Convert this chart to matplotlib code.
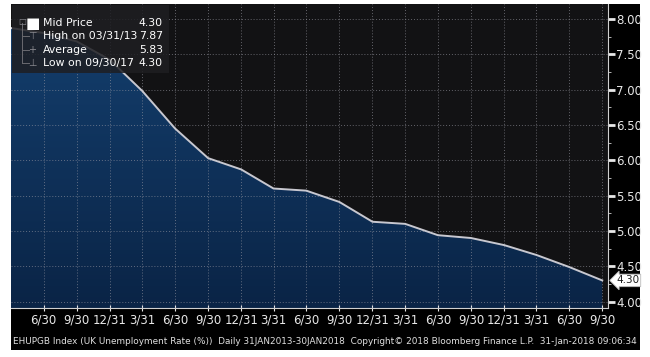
import matplotlib
matplotlib.use("Agg")
import matplotlib.pyplot as plt
import matplotlib.dates as mdates
import numpy as np
from matplotlib.patches import Rectangle
from datetime import date

# quarterly UK unemployment rate (%)
dates = [date(2013, 3, 31), date(2013, 6, 30), date(2013, 9, 30), date(2013, 12, 31),
         date(2014, 3, 31), date(2014, 6, 30), date(2014, 9, 30), date(2014, 12, 31),
         date(2015, 3, 31), date(2015, 6, 30), date(2015, 9, 30), date(2015, 12, 31),
         date(2016, 3, 31), date(2016, 6, 30), date(2016, 9, 30), date(2016, 12, 31),
         date(2017, 3, 31), date(2017, 6, 30), date(2017, 9, 30)]
rate = [7.87, 7.80, 7.68, 7.42, 6.98, 6.45, 6.03, 5.87, 5.60, 5.57,
        5.41, 5.13, 5.10, 4.94, 4.90, 4.80, 4.66, 4.49, 4.30]

tick_dates = dates[1:]
tick_labels = [f"{d.month}/{d.day}" for d in tick_dates]
y_ticks = [4.00, 4.50, 5.00, 5.50, 6.00, 6.50, 7.00, 7.50, 8.00]

legend_rows = [("Mid Price", "4.30"), ("High on 03/31/13", "7.87"),
               ("Average", "5.83"), ("Low on 09/30/17", "4.30")]
footer = ("EHUPGB Index (UK Unemployment Rate (%))  Daily 31JAN2013-30JAN2018  "
          "Copyright\u00a9 2018 Bloomberg Finance L.P.  31-Jan-2018 09:06:34")

W, H = 650, 357
fig = plt.figure(figsize=(W / 100, H / 100), dpi=100, facecolor="white")
fig.patches.append(Rectangle((11 / W, 1 - 350 / H), 629 / W, 346 / H,
                             transform=fig.transFigure, facecolor="black",
                             edgecolor="none", zorder=-5))

ax = fig.add_axes([11 / W, 1 - 308 / H, 597 / W, 304 / H])
ax.set_zorder(2)
ax.set_facecolor("#121214")

x = mdates.date2num(dates)
ax.set_xlim(x[0], x[-1] + 16)
ax.set_ylim(3.91, 8.21)

# gradient fill under the line (lighter at the top)
grad = np.linspace(0, 1, 256).reshape(-1, 1)
cmap = matplotlib.colors.LinearSegmentedColormap.from_list("b", ["#0a2446", "#143f6e"])
im = ax.imshow(grad, cmap=cmap, aspect="auto", origin="lower",
               extent=[x[0], x[-1], 3.91, 8.0], zorder=1)
poly = ax.fill_between(x, rate, 3.91, facecolor="none", edgecolor="none")
clip = poly.get_paths()[0]
im.set_clip_path(clip, transform=ax.transData)
ax.plot(x, rate, color="#c8c8d0", lw=1.4, zorder=3)

# grid
for t in mdates.date2num(tick_dates):
    ax.axvline(t, color="#9a9aa4", lw=0.7, ls=(0, (1, 2)), alpha=0.6, zorder=2)
for v in y_ticks:
    ax.axhline(v, color="#9a9aa4", lw=0.7, ls=(0, (1, 2)), alpha=0.6, zorder=2)

# axes styling
for s in ["top", "left"]:
    ax.spines[s].set_visible(False)
ax.spines["right"].set_color("#d0d0d0")
ax.spines["bottom"].set_color("#d0d0d0")
ax.yaxis.tick_right()
ax.set_yticks(y_ticks)
ax.set_yticklabels([f"{v:.2f}" for v in y_ticks])
ax.set_yticks(np.arange(4.25, 8.0, 0.5), minor=True)
ax.tick_params(axis="y", which="major", colors="#e8e8e8", labelsize=8.5,
               length=5, width=2, direction="out", pad=1)
ax.tick_params(axis="y", which="minor", colors="#d0d0d0", length=2.5, direction="out")
ax.set_xticks(mdates.date2num(tick_dates))
ax.set_xticklabels(tick_labels)
ax.tick_params(axis="x", colors="#e8e8e8", labelsize=8.5, length=4,
               direction="inout", pad=2)

# last value tag
ax.annotate("4.30", xy=(1.0, rate[-1]), xycoords=("axes fraction", "data"),
            xytext=(6, 0), textcoords="offset points", va="center", ha="left",
            fontsize=7.5, color="#202020",
            bbox=dict(boxstyle="larrow,pad=0.12", fc="white", ec="#bbbbbb", lw=0.6),
            annotation_clip=False)

# legend panel
ax.add_patch(Rectangle((0.002, 0.773), 0.262, 0.224, transform=ax.transAxes,
                       facecolor="#1e1e22", alpha=0.85, edgecolor="none", zorder=4))
row_y = [0.9375, 0.895, 0.849, 0.806]
icons = ["\u25a0", "\u22a4", "+", "\u22a5"]
# little tree connector on the left
ax.plot([0.019, 0.019], [row_y[0], row_y[-1]], transform=ax.transAxes,
        color="#6a6a70", lw=0.7, zorder=5)
for yy in row_y[1:]:
    ax.plot([0.019, 0.030], [yy, yy], transform=ax.transAxes,
            color="#6a6a70", lw=0.7, zorder=5)
ax.text(0.019, row_y[0] + 0.005, "\u25a1", transform=ax.transAxes, va="center",
        ha="center", color="#8a8a90", fontsize=6, zorder=6)
for i, (name, val) in enumerate(legend_rows):
    yy = row_y[i]
    ax.text(0.036, yy, icons[i], transform=ax.transAxes, va="center", ha="center",
            color="white" if i == 0 else "#8a8a90", fontsize=11 if i == 0 else 7, zorder=6)
    ax.text(0.054, yy, name, transform=ax.transAxes, va="center", ha="left",
            color="white", fontsize=7.8, zorder=6)
    ax.text(0.2546, yy, val, transform=ax.transAxes, va="center", ha="right",
            color="white", fontsize=7.8, zorder=6)

fig.text(13 / W, 1 - 341 / H, footer, color="#e0e0e0", fontsize=6.4,
         va="center", ha="left")

fig.savefig("out.png", dpi=100, facecolor="white")
